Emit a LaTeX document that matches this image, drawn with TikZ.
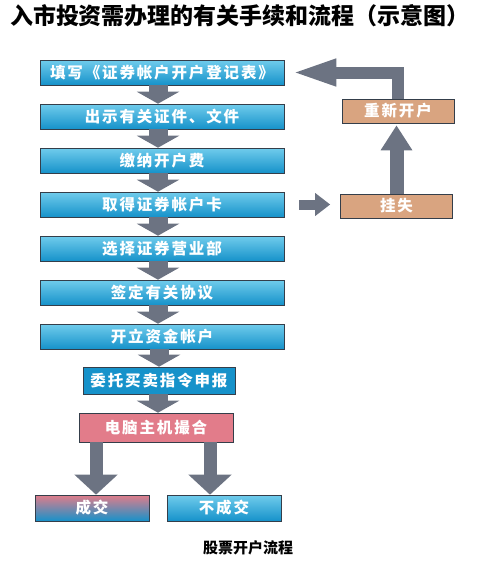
\documentclass[tikz,border=0pt]{standalone}
\usepackage{fontspec}
\setmainfont{Noto Sans CJK SC}
\newfontfamily\boxfont{Noto Sans CJK SC}[LetterSpace=12]
\usetikzlibrary{arrows.meta}

\definecolor{bluetop}{RGB}{112,204,236}
\definecolor{bluebot}{RGB}{22,146,202}
\definecolor{boxline}{RGB}{52,62,74}
\definecolor{pinkbox}{RGB}{226,124,138}
\definecolor{pinklite}{RGB}{220,136,150}
\definecolor{orangebox}{RGB}{217,164,128}
\definecolor{arrowgray}{RGB}{108,115,130}

\tikzset{every picture/.style={line width=0.75pt}}
\tikzset{
  flowbox/.style={draw=boxline, line width=0.6pt, inner sep=0pt, minimum height=25pt,
    text=white, font=\boxfont\bfseries\fontsize{15.5}{15.5}\selectfont},
  bluebox/.style={flowbox, minimum width=244pt, top color=bluetop, bottom color=bluebot},
  orangebox/.style={flowbox, minimum width=112pt, minimum height=24pt, fill=orangebox},
  grayarrow/.style={draw=arrowgray, line cap=butt, line join=miter},
  downarrow/.style={grayarrow, line width=19pt, -{Triangle[width=42pt,length=12pt]}}
}

\begin{document}
\begin{tikzpicture}[x=1pt,y=1pt,yscale=-1,xscale=1]
\useasboundingbox (0,0) rectangle (477,563);

% Title
\node (title) at (240,16) {\fontsize{23}{23}\selectfont\bfseries 入市投资需办理的有关手续和流程（示意图）};

%Shape: Rectangle (main column)
\node [bluebox] (form) at (162,72.5) {填写《证券帐户开户登记表》};
\node [bluebox] (docs) at (162,116.5) {出示有关证件、文件};
\node [bluebox] (fee) at (162,160.5) {缴纳开户费};
\node [bluebox] (card) at (162,204.5) {取得证券帐户卡};
\node [bluebox] (branch) at (162,248.5) {选择证券营业部};
\node [bluebox] (sign) at (162,292.5) {签定有关协议};
\node [bluebox] (fund) at (162,336.5) {开立资金帐户};
\node [flowbox, minimum width=152pt, minimum height=27pt, left color=bluebot, middle color=pinklite, right color=bluebot] (order) at (159,380.5) {委托买卖指令申报};
\node [flowbox, minimum width=154pt, minimum height=29pt, left color=pinkbox, middle color=pinklite, right color=pinkbox] (match) at (156,427.5) {电脑主机撮合};
\node [flowbox, minimum width=114pt, minimum height=26pt, top color=pinkbox, middle color=pinkbox, bottom color=bluebot] (deal) at (92,508) {成交};
\node [bluebox, minimum width=114pt, minimum height=26pt] (nodeal) at (224,508) {不成交};

%Shape: Rectangle (right side)
\node [orangebox] (reopen) at (398,111) {重新开户};
\node [orangebox] (lost) at (396.5,206) {挂失};

%Straight Lines (block arrows)
\draw [downarrow] ([xshift=-4pt]form.south) -- ([xshift=-4pt]docs.north);
\draw [downarrow] ([xshift=-4pt]docs.south) -- ([xshift=-4pt]fee.north);
\draw [downarrow] ([xshift=-4pt]fee.south) -- ([xshift=-4pt]card.north);
\draw [downarrow] ([xshift=-4pt]card.south) -- ([xshift=-4pt]branch.north);
\draw [downarrow] ([xshift=-4pt]branch.south) -- ([xshift=-4pt]sign.north);
\draw [downarrow] ([xshift=-4pt]sign.south) -- ([xshift=-4pt]fund.north);
\draw [downarrow] ([xshift=-3pt]fund.south) -- ([xshift=-3pt]fund.south |- order.north);
\draw [downarrow] ([xshift=-1pt]order.south) -- ([xshift=-1pt]order.south |- match.north);
\draw [grayarrow, line width=13pt, -{Triangle[width=42pt,length=20pt]}] ([xshift=-60pt]match.south) -- ([xshift=-60pt]match.south |- deal.north);
\draw [grayarrow, line width=13pt, -{Triangle[width=42pt,length=20pt]}] ([xshift=54pt]match.south) -- ([xshift=54pt]match.south |- nodeal.north);

%Straight Lines (loss and reopen)
\draw [grayarrow, line width=10pt, -{Triangle[width=22pt,length=15pt]}, shorten <=15pt, shorten >=10pt] (card.east) -- (card.east -| lost.west);
\draw [grayarrow, line width=14pt, -{Triangle[width=30pt,length=25pt]}, shorten >=2pt] (lost.north) -- (lost.north |- reopen.south);
\draw [grayarrow, line width=12pt, -{Triangle[width=24pt,length=46pt]}, shorten >=6pt] (reopen.north) |- (form.east);

% Text Node
\node (caption) at (248,548) {\fontsize{15}{15}\selectfont\bfseries 股票开户流程};

\end{tikzpicture}
\end{document}
